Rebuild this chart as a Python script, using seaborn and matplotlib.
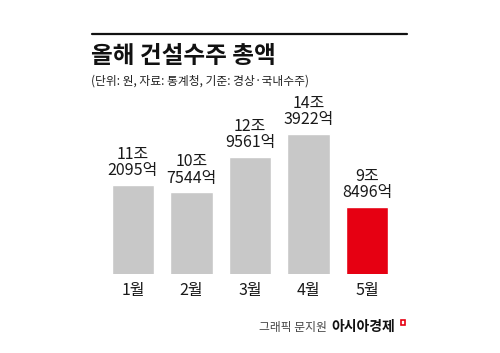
import matplotlib
matplotlib.use("Agg")
import matplotlib.pyplot as plt
import seaborn as sns
import pandas as pd
from matplotlib.patches import Rectangle
from matplotlib.lines import Line2D

# 데이터 (단위: 조 원)
months = ['1월', '2월', '3월', '4월', '5월']
values = [11.2095, 10.7544, 12.9561, 14.3922, 9.8496]
value_labels = ['11조\n2095억', '10조\n7544억', '12조\n9561억', '14조\n3922억', '9조\n8496억']
bar_colors = ['#c8c8c8', '#c8c8c8', '#c8c8c8', '#c8c8c8', '#e60012']

sns.set_theme(style="white")
plt.rcParams['font.family'] = ['Noto Sans CJK KR', 'DejaVu Sans']

df = pd.DataFrame({'month': months, 'value': values})

fig = plt.figure(figsize=(5, 3.53), dpi=100)
fig.patch.set_facecolor('white')
ax = fig.add_axes([0.2075, 0.2238, 0.585, 0.4929])

sns.barplot(data=df, x='month', y='value', hue='month', palette=bar_colors,
            width=0.72, legend=False, ax=ax, saturation=1)

for i, (v, lab) in enumerate(zip(values, value_labels)):
    ax.annotate(lab, (i, v), xytext=(0, 4), textcoords='offset points',
                ha='center', va='bottom', fontsize=11.5, color='#1a1a1a',
                linespacing=0.95)

ax.set_xlim(-0.5, 4.5)
ax.set_ylim(5.70, 16.47)
ax.set_xlabel('')
ax.set_ylabel('')
ax.set_yticks([])
ax.tick_params(axis='x', length=0, pad=6, labelsize=11.5, labelcolor='#1a1a1a')
for s in ax.spines.values():
    s.set_visible(False)

# 상단 선
fig.add_artist(Line2D([92 / 500, 407 / 500], [1 - 34 / 353, 1 - 34 / 353],
                      color='#111111', lw=1.6))

fig.text(91 / 500, 1 - 56 / 353, '올해 건설수주 총액', fontsize=17, fontweight='bold',
         color='#111111', ha='left', va='center')
fig.text(91 / 500, 1 - 81 / 353, '(단위: 원, 자료: 통계청, 기준: 경상·국내수주)',
         fontsize=8.5, color='#222222', ha='left', va='center')

# 출처
fig.text(327 / 500, 1 - 327 / 353, '그래픽 문지원', fontsize=8.5, color='#444444',
         ha='right', va='center')
fig.text(331 / 500, 1 - 327 / 353, '아시아경제', fontsize=10, fontweight='bold',
         color='#111111', ha='left', va='center')
fig.add_artist(Rectangle((401 / 500, 1 - 325 / 353), 4 / 500, 5 / 353,
                         fill=False, edgecolor='#e60012', lw=1.2))

fig.savefig('out.png', dpi=100, facecolor='white')
